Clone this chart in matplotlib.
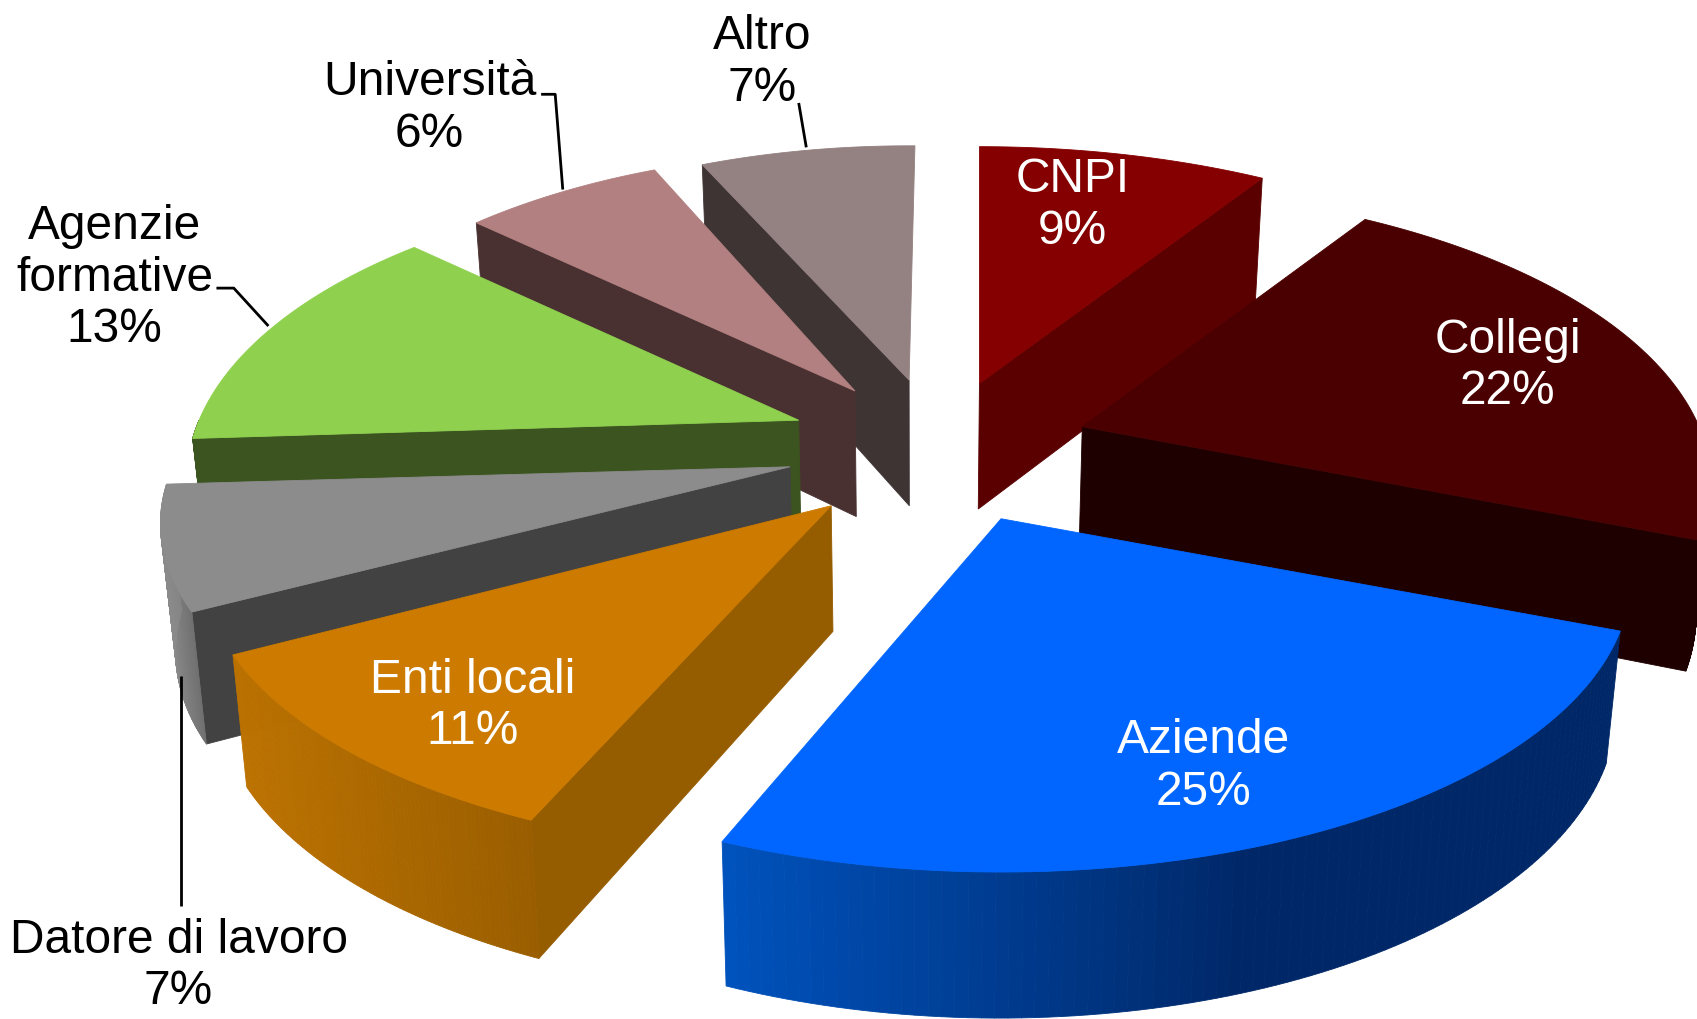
import numpy as np
import matplotlib
matplotlib.use("Agg")
import matplotlib.pyplot as plt
from matplotlib.patches import Polygon
from matplotlib.colors import to_rgb

plt.rcParams['font.family'] = ['Liberation Sans', 'DejaVu Sans']

# ---- data ----
categories = ["CNPI", "Collegi", "Aziende", "Enti locali", "Datore di lavoro",
              "Agenzie\nformative", "Università", "Altro"]
shares = [9, 22, 25, 11, 7, 13, 6, 7]

# ---- styling (per slice) ----
apex_x = [905, 1000, 925, 768, 730, 738, 790, 840]
apex_y = [355, 395, 480, 468, 432, 389, 362, 352]
x_scale = [1.0, 1.0, 1.0, 1.0, 1.0, 0.972, 0.93, 0.93]
y_scale = [0.99, 1.0, 0.985, 0.975, 0.95, 1.0, 1.0, 0.98]
start_nudge = [0, 0, 0, 1.8, 0, 0, -1.6, 0]
end_nudge = [0, 0, 0, 0, 0, 0, 0.8, 0.7]
depth_falloff = [0.03, 0.1, 0.14, 0.1, 0.1, 0.1, 0.1, 0.1]
top_col = ["#850000", "#4a0000", "#0066ff", "#cc7a00", "#8c8c8c", "#8fd14f", "#b28080", "#948181"]
side_col = ["#5a0000", "#1f0000", "#002868", "#965c00", "#424242", "#3c5420", "#4a3131", "#3f3434"]
rim_left = ["#5a0000", "#1f0000", "#0052bd", "#bc7200", "#8a8a8a", "#3c5420", "#4a3131", "#3f3434"]
rim_right = ["#5a0000", "#1f0000", "#002868", "#9a5e00", "#707070", "#3c5420", "#4a3131", "#3f3434"]
# which cut edge shows its wall: 0 = leading edge, 1 = trailing edge, None = neither
wall_edge = [1, 1, None, 0, 0, 0, 0, 0]
draw_order = [7, 6, 5, 4, 3, 0, 1, 2]
label_xy = [(991, 190), (1393, 338), (1112, 708), (437, 652), (165, 892),
            (106, 257), (397, 100), (704, 58)]
label_col = ["white", "white", "white", "white", "black", "black", "black", "black"]
leaders = [[(500, 88), (513, 88), (520, 176)],
           [(200, 267), (216, 267), (248, 302)],
           [(167, 625), (167, 838)],
           [(738, 96), (745, 137)]]

RX, RY, K, DEPTH = 570.0, 265.0, 0.2, 116.0
W, H = 1568, 942

fig = plt.figure(figsize=(16.97, 10.20), dpi=100)
ax = fig.add_axes([0, 0, 1, 1])
ax.set_xlim(0, W)
ax.set_ylim(H, 0)
ax.axis("off")


def top_pt(i, t, r=1.0):
    w = 1 + K * r * np.cos(t)
    return (apex_x[i] + r * RX * x_scale[i] * np.sin(t) / w,
            apex_y[i] - r * RY * y_scale[i] * np.cos(t) / w)


def bot_pt(i, t, r=1.0):
    x, y = top_pt(i, t, r)
    d = DEPTH / (1 + depth_falloff[i] * r * np.cos(t))
    return (x - 0.02 * (x - 850), y + d)


def poly(pts, col, z):
    ax.add_patch(Polygon(pts, closed=True, facecolor=col, edgecolor=col, lw=0.6, zorder=z))


edges = np.radians(np.concatenate([[0], np.cumsum(shares)]) * 3.6)

for z, i in enumerate(draw_order):
    a0 = edges[i] + np.radians(start_nudge[i])
    a1 = edges[i + 1] + np.radians(end_nudge[i])
    base = z * 10 + 1
    # wall along the cut edge
    if wall_edge[i] is not None:
        t = a1 if wall_edge[i] == 1 else a0
        poly([top_pt(i, t, 0), top_pt(i, t), bot_pt(i, t), bot_pt(i, t, 0)], side_col[i], base)
    # outer rim with horizontal shading
    vis0, vis1 = max(a0, np.pi / 2), min(a1, 3 * np.pi / 2)
    if vis1 > vis0:
        ts = np.linspace(vis0, vis1, 90)
        xs = [top_pt(i, t)[0] for t in ts]
        x_lo, x_hi = min(xs), max(xs)
        if i == 2:
            x_hi = 1150  # blue reaches its darkest tone before the right end
        c_l, c_r = np.array(to_rgb(rim_left[i])), np.array(to_rgb(rim_right[i]))
        for p, q in zip(ts[:-1], ts[1:]):
            f = np.clip((top_pt(i, (p + q) / 2)[0] - x_lo) / max(x_hi - x_lo, 1), 0, 1)
            col = tuple(c_l + (c_r - c_l) * f)
            poly([top_pt(i, p), top_pt(i, q), bot_pt(i, q), bot_pt(i, p)], col, base + 1)
    # top face
    ts = np.linspace(a0, a1, 80)
    poly([top_pt(i, 0, 0)] + [top_pt(i, t) for t in ts], top_col[i], base + 2)

for path in leaders:
    xs, ys = zip(*path)
    ax.plot(xs, ys, color="black", lw=2.0, zorder=200, solid_capstyle="butt")

for i, name in enumerate(categories):
    ax.text(label_xy[i][0], label_xy[i][1], f"{name}\n{shares[i]}%", color=label_col[i],
            fontsize=34.5, ha="center", va="center", linespacing=1.19, zorder=300)

fig.savefig("out.png", dpi=100, facecolor="white")
